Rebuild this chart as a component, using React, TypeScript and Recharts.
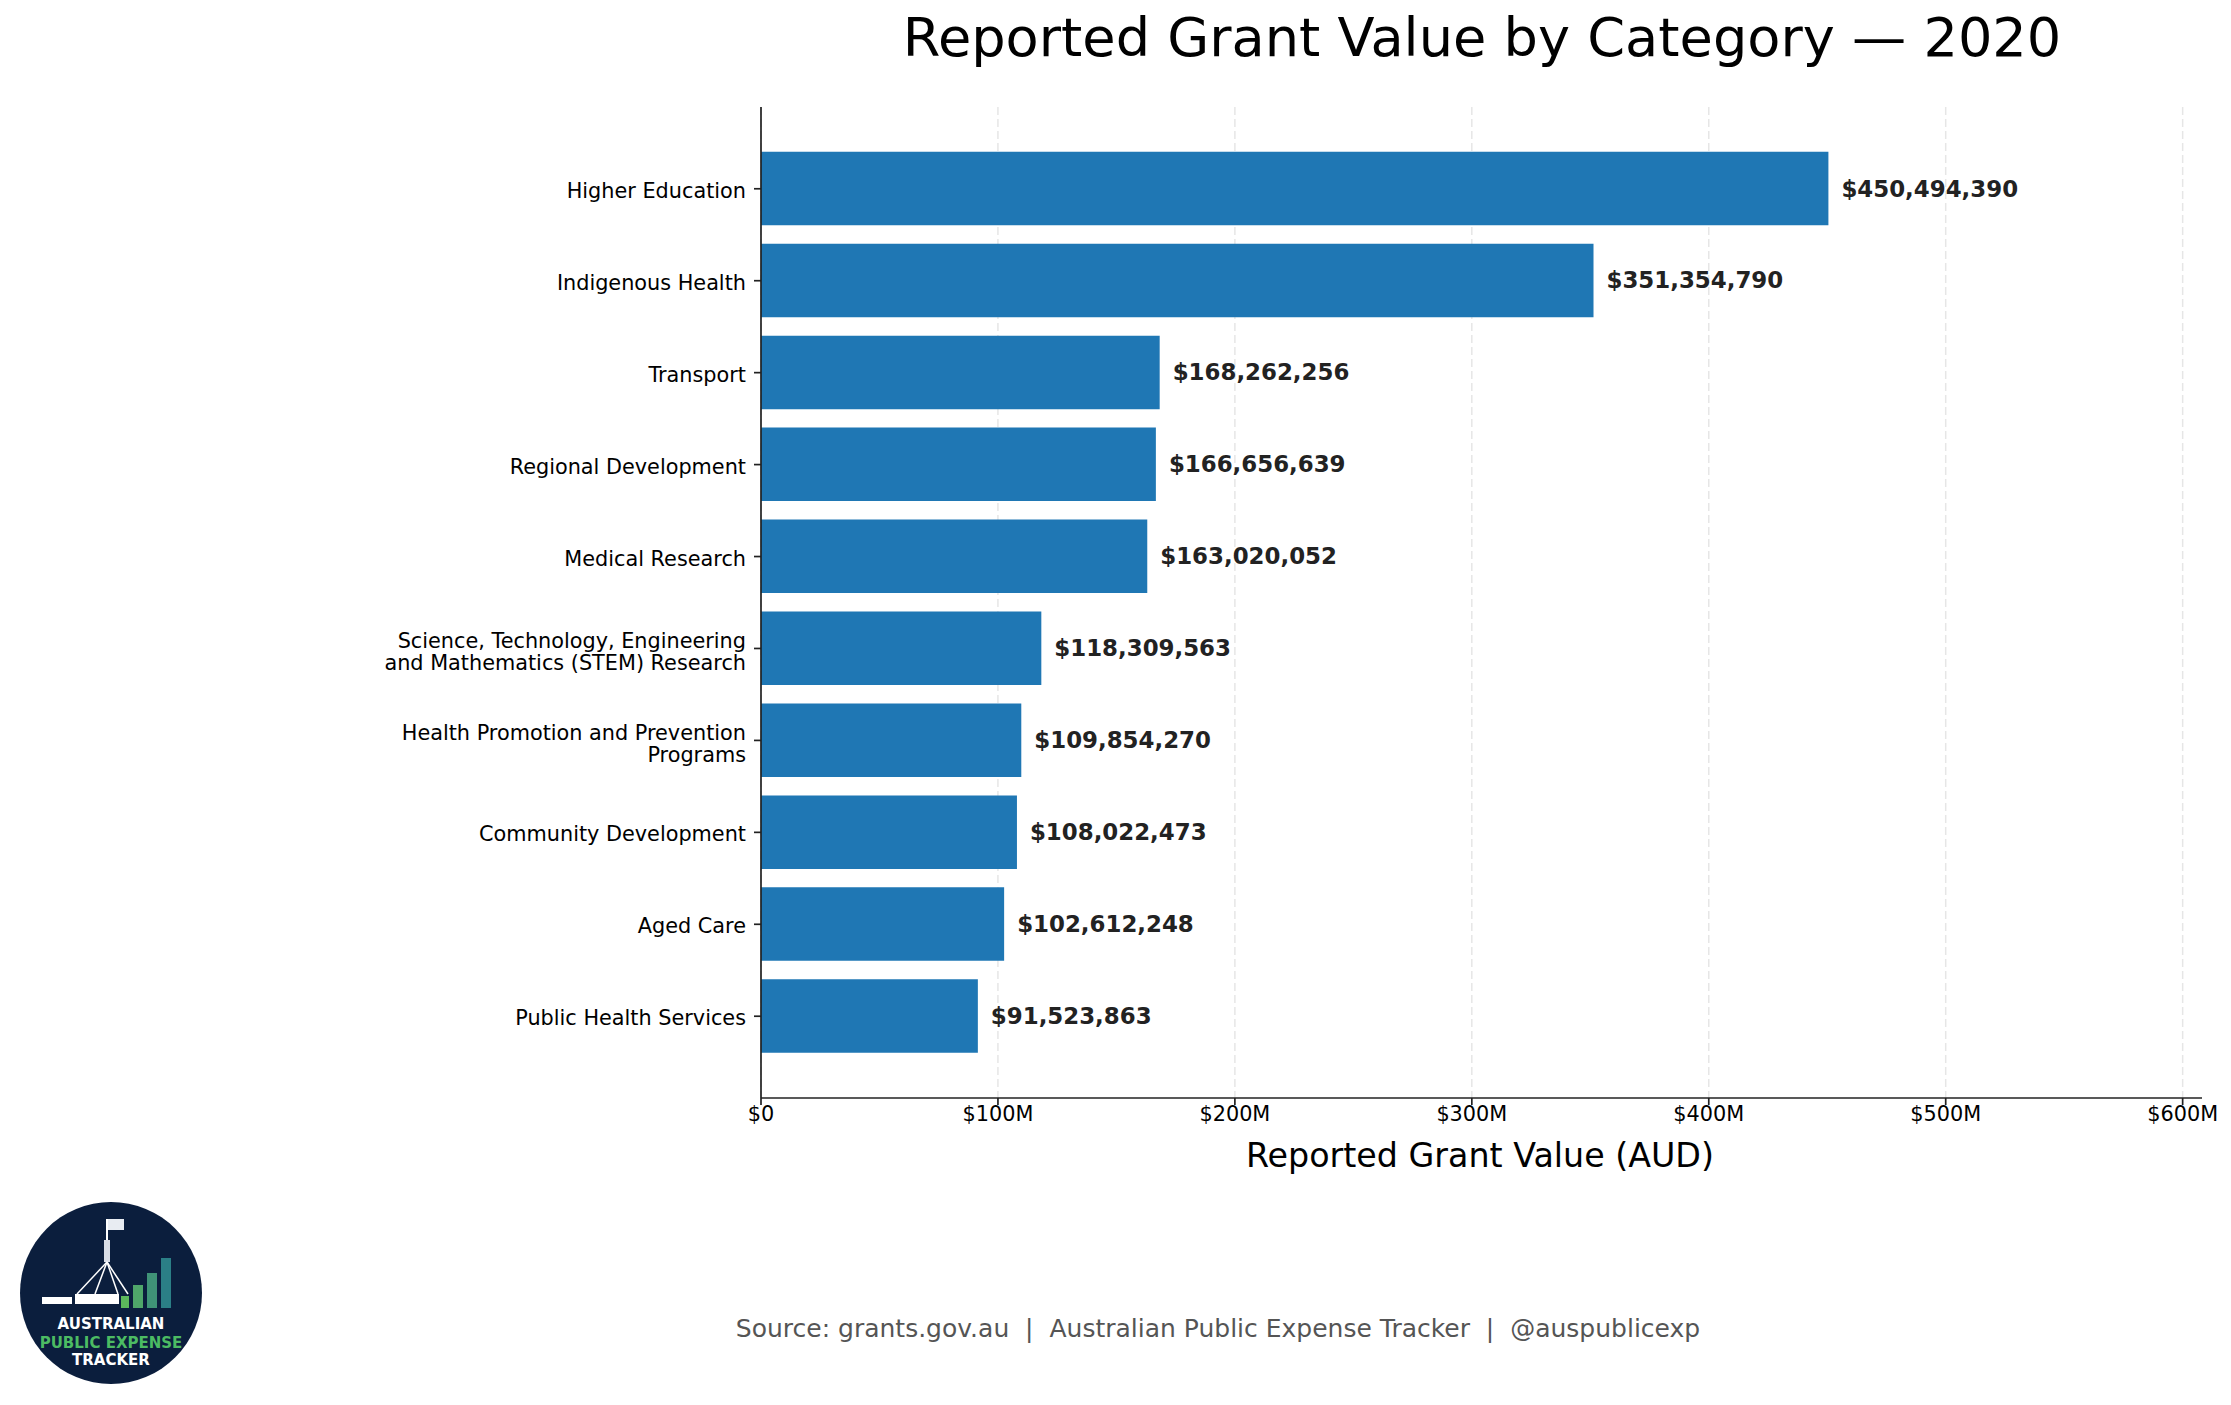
import React from 'react';
import { BarChart, Bar, XAxis, YAxis, CartesianGrid, LabelList } from 'recharts';

const categories = [
  'Higher Education',
  'Indigenous Health',
  'Transport',
  'Regional Development',
  'Medical Research',
  'Science, Technology, Engineering\nand Mathematics (STEM) Research',
  'Health Promotion and Prevention\nPrograms',
  'Community Development',
  'Aged Care',
  'Public Health Services',
];

const grantValues = [
  450494390, 351354790, 168262256, 166656639, 163020052,
  118309563, 109854270, 108022473, 102612248, 91523863,
];

const xTicks = [0, 100000000, 200000000, 300000000, 400000000, 500000000, 600000000];
const xTickLabels = ['$0', '$100M', '$200M', '$300M', '$400M', '$500M', '$600M'];

const FONT = '"DejaVu Sans", Verdana, sans-serif';
const BAR_BLUE = '#1f77b4';
const AXIS = '#222';

const data = categories.map((name, i) => ({ name, value: grantValues[i] }));
// matplotlib-ish headroom on the right
const xMax = Math.max(...grantValues) * 1.35;

const fmtMoney = (v: number) => '$' + v.toLocaleString('en-US');

const YTick = ({ x, y, payload }: any) => {
  const lines = String(payload.value).split('\n');
  const lh = 22;
  const shift = lines.length > 1 ? 3 : 1.5;
  const start = y - ((lines.length - 1) * lh) / 2 + shift;
  return (
    <text textAnchor="end" fontFamily={FONT} fontSize={20.8} fill="#000">
      {lines.map((ln, i) => (
        <tspan key={i} x={x - 1} y={start + i * lh + 7.5}>
          {ln}
        </tspan>
      ))}
    </text>
  );
};

const XTick = ({ x, y, payload }: any) => {
  const idx = xTicks.indexOf(payload.value);
  return (
    <text x={x} y={y + 16} textAnchor="middle" fontFamily={FONT} fontSize={20.8} fill="#000">
      {idx >= 0 ? xTickLabels[idx] : ''}
    </text>
  );
};

const ValueLabel = ({ x, y, width, height, value }: any) => (
  <text
    x={x + width + 13}
    y={y + height / 2 + 8}
    fontFamily={FONT}
    fontSize={22.9}
    fontWeight="bold"
    fill="#222"
  >
    {fmtMoney(value)}
  </text>
);

// grid only at the tick values (no extra line at the axis end)
const gridAtTicks = ({ xAxis, offset }: any) => {
  if (xAxis && typeof xAxis.scale === 'function') {
    return xTicks.map((t) => xAxis.scale(t));
  }
  if (offset) {
    return xTicks.map((t) => offset.left + (t / xMax) * offset.width);
  }
  return [];
};

const Logo = () => (
  <g>
    <circle cx={111} cy={1293} r={91} fill="#0b1e3d" />
    {/* flag + mast */}
    <rect x={106} y={1219} width={2} height={45} fill="#fff" />
    <rect x={108} y={1219} width={16} height={11} fill="#e8ecf2" />
    <rect x={104} y={1240} width={6} height={22} fill="#d8dde6" />
    <line x1={107} y1={1262} x2={77} y2={1294} stroke="#fff" strokeWidth={1.5} />
    <line x1={107} y1={1262} x2={95} y2={1294} stroke="#fff" strokeWidth={1.5} />
    <line x1={107} y1={1262} x2={118} y2={1294} stroke="#fff" strokeWidth={1.5} />
    <line x1={107} y1={1262} x2={128} y2={1294} stroke="#fff" strokeWidth={1.5} />
    {/* building */}
    <rect x={42} y={1297} width={30} height={7} fill="#fff" />
    <rect x={75} y={1294} width={44} height={10} fill="#fff" />
    {/* bars */}
    <rect x={121} y={1296} width={8} height={12} fill="#5cb85c" />
    <rect x={133} y={1285} width={10} height={23} fill="#4fa66a" />
    <rect x={147} y={1273} width={10} height={35} fill="#3f9377" />
    <rect x={161} y={1258} width={10} height={50} fill="#2b7f86" />
    <text x={111} y={1329} textAnchor="middle" fontFamily={FONT} fontWeight="bold" fontSize={15} fill="#fff">
      AUSTRALIAN
    </text>
    <text x={111} y={1348} textAnchor="middle" fontFamily={FONT} fontWeight="bold" fontSize={15} fill="#4cbb63">
      PUBLIC EXPENSE
    </text>
    <text x={111} y={1365} textAnchor="middle" fontFamily={FONT} fontWeight="bold" fontSize={15} fill="#fff">
      TRACKER
    </text>
  </g>
);

export default function App() {
  return (
    <div style={{ position: 'absolute', left: 0, top: 0, width: 2231, height: 1405, background: '#fff' }}>
      <BarChart
        width={2231}
        height={1405}
        data={data}
        layout="vertical"
        margin={{ top: 107, right: 29, bottom: 267, left: 361 }}
      >
        <CartesianGrid
          horizontal={false}
          stroke="#e6e6e6"
          strokeWidth={1.5}
          strokeDasharray="8 4"
          verticalCoordinatesGenerator={gridAtTicks}
        />
        <XAxis
          type="number"
          domain={[0, xMax]}
          ticks={xTicks}
          allowDataOverflow
          height={40}
          axisLine={{ stroke: AXIS, strokeWidth: 1.7 }}
          tickLine={{ stroke: AXIS, strokeWidth: 1.7 }}
          tickSize={7}
          tickMargin={0}
          tick={<XTick />}
        />
        <YAxis
          type="category"
          dataKey="name"
          width={400}
          interval={0}
          padding={{ top: 35.8, bottom: 35.8 }}
          axisLine={{ stroke: AXIS, strokeWidth: 1.7 }}
          tickLine={{ stroke: AXIS, strokeWidth: 1.7 }}
          tickSize={7}
          tickMargin={7}
          tick={<YTick />}
        />
        <Bar dataKey="value" fill={BAR_BLUE} barSize={73.5} isAnimationActive={false}>
          <LabelList dataKey="value" content={<ValueLabel />} />
        </Bar>
      </BarChart>
      <svg
        width={2231}
        height={1405}
        style={{ position: 'absolute', left: 0, top: 0, pointerEvents: 'none' }}
      >
        <text x={1482} y={56} textAnchor="middle" fontFamily={FONT} fontSize={54.2} fill="#000">
          Reported Grant Value by Category — 2020
        </text>
        <text x={1480} y={1167} textAnchor="middle" fontFamily={FONT} fontSize={33.3} fill="#000">
          Reported Grant Value (AUD)
        </text>
        <text x={1218} y={1337} textAnchor="middle" fontFamily={FONT} fontSize={25} fill="#555" xmlSpace="preserve">
          Source: grants.gov.au  |  Australian Public Expense Tracker  |  @auspublicexp
        </text>
        <Logo />
      </svg>
    </div>
  );
}
